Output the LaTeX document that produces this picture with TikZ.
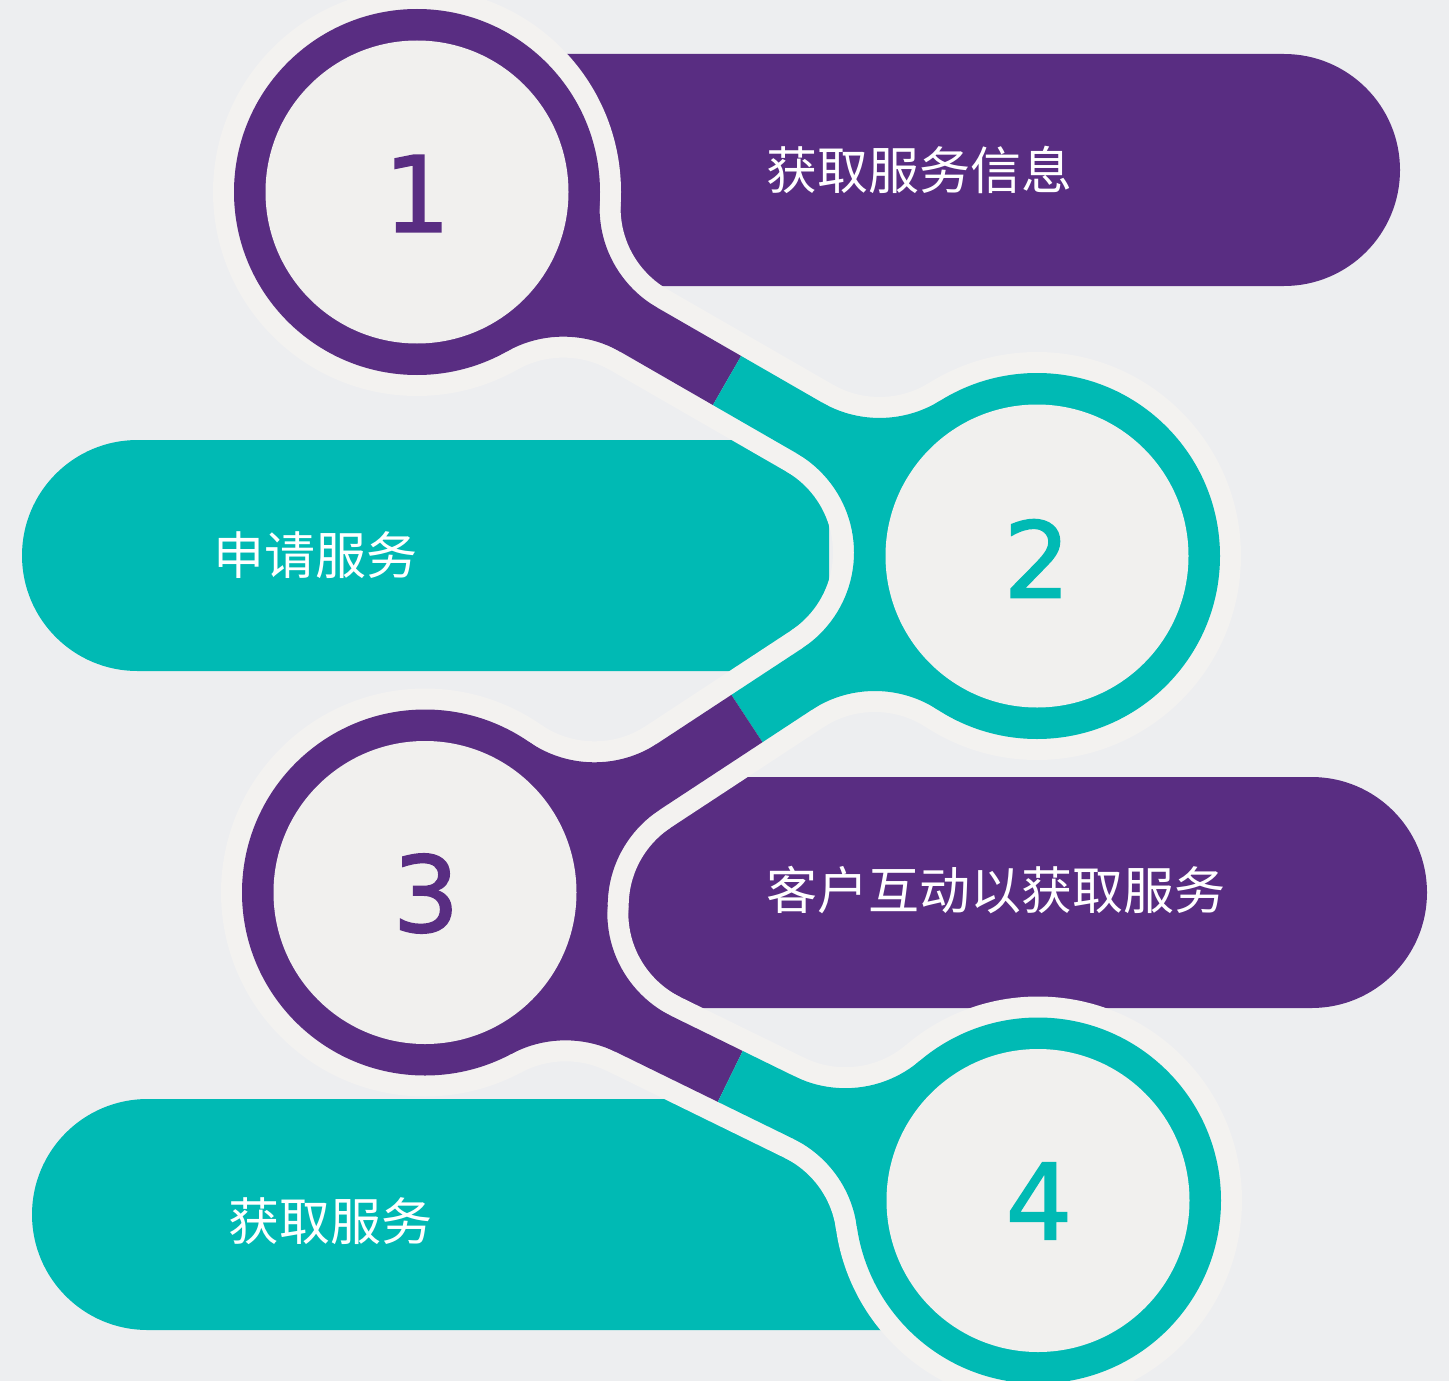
\documentclass[tikz,border=0pt]{standalone}
\usepackage{fontspec}
\newfontfamily\cjk{Noto Sans CJK SC}
\newfontfamily\numfont{DejaVu Sans}[FakeBold=1.6]
\usetikzlibrary{calc,intersections}
\definecolor{pur}{HTML}{592D82}
\definecolor{tea}{HTML}{00BAB4}
\definecolor{bgc}{HTML}{EDEEF0}
\definecolor{halo}{HTML}{F3F2F0}
\definecolor{innc}{HTML}{F1F0EE}
% fillet between a circle (centre #1) and a band (near end #2, far end #3)
% side angles #4 / #5, colour #6 ; uses \filRc, \filfr, \filw
\newcommand{\myfil}[6]{%
  \pgfmathsetmacro\filbig{\filRc+\filfr}%
  \pgfmathsetmacro\filoff{\filw+\filfr}%
  \pgfmathsetmacro\filrat{\filRc/(\filRc+\filfr)}%
  \path[name path=fcirc] (#1) circle[radius=\filbig pt];
  \path[name path=fline] ($(#2)!\filoff pt!#4:(#3)$) -- ($(#3)!\filoff pt!#5:(#2)$);
  \path[name intersections={of=fcirc and fline, by=FF}];
  \coordinate (TT1) at ($(#1)!\filrat!(FF)$);
  \coordinate (EE1) at ($(#2)!\filw pt!#4:(#3)$);
  \coordinate (EE2) at ($(#3)!\filw pt!#5:(#2)$);
  \coordinate (TT2) at ($(EE1)!(FF)!(EE2)$);
  \begin{scope}
    \clip (#2) -- (TT1) -- (FF) -- (TT2) -- cycle;
    \fill[#6, even odd rule] ($(FF)+(-420,-420)$) rectangle ($(FF)+(420,420)$)
      (FF) circle[radius=\filfr pt];
  \end{scope}
}
\newcommand{\bothfil}[4]{% circle, near, far, colour
  \myfil{#1}{#2}{#3}{90}{-90}{#4}
  \myfil{#1}{#2}{#3}{-90}{90}{#4}
}
\tikzset{
  bartext/.style={anchor=west, inner sep=0pt, text=white, font=\cjk\fontsize{51}{60}\selectfont},
  numtext/.style={inner sep=0pt, font=\numfont\fontsize{105}{120}\selectfont}
}
\begin{document}
\begin{tikzpicture}[x=1pt, y=-1pt]
\useasboundingbox (0,0) rectangle (1449,1381);
\clip (0,0) rectangle (1449,1381);
\fill[bgc] (0,0) rectangle (1449,1381);

% centres and stem axes
\coordinate (C1) at (417,192);
\coordinate (C2) at (1037,556);
\coordinate (C3) at (425,892.5);
\coordinate (C4) at (1038,1200.5);
\coordinate (P12) at (417,202);   \coordinate (Q12) at (1037,559);
\coordinate (P23) at (1037,528);  \coordinate (Q23) at (425,930);
\coordinate (P34) at (425,927);   \coordinate (Q34) at (1038,1227);
\coordinate (M12) at ($(P12)!0.5!(Q12)$);
\coordinate (M23) at ($(P23)!0.474!(Q23)$);
\coordinate (M34) at ($(P34)!0.498!(Q34)$);

% bars
\fill[pur, rounded corners=116pt] (300,54) rectangle (1400,286);
\begin{scope}
  \clip (0,0) rectangle (829,1381);
  \fill[tea, rounded corners=115.5pt] (22,440) rectangle (1100,671);
\end{scope}
\fill[pur, rounded corners=115.5pt] (500,777) rectangle (1427,1008);
\begin{scope}
  \clip (0,0) rectangle (900,1381);
  \fill[tea, rounded corners=115.5pt] (32,1099) rectangle (1100,1330);
\end{scope}

% halo layer
\def\filRc{204}\def\filfr{94}\def\filw{49.3}
\foreach \c in {C1,C2,C3,C4} { \fill[halo] (\c) circle[radius=204pt]; }
\draw[halo, line width=98.6pt] (P12) -- (Q12);
\draw[halo, line width=98.6pt] (P23) -- (Q23);
\draw[halo, line width=98.6pt] (P34) -- (Q34);
\bothfil{C1}{P12}{Q12}{halo}
\bothfil{C2}{Q12}{P12}{halo}
\bothfil{C2}{P23}{Q23}{halo}
\bothfil{C3}{Q23}{P23}{halo}
\bothfil{C3}{P34}{Q34}{halo}
\bothfil{C4}{Q34}{P34}{halo}

% coloured chain
\def\filRc{183}\def\filfr{115}\def\filw{28.3}
\fill[pur] (C1) circle[radius=183pt];
\fill[tea] (C2) circle[radius=183pt];
\fill[pur] (C3) circle[radius=183pt];
\fill[tea] (C4) circle[radius=183pt];
\draw[pur, line width=56.6pt] (P12) -- (M12);
\draw[tea, line width=56.6pt] (M12) -- (Q12);
\draw[tea, line width=56.6pt] (P23) -- (M23);
\draw[pur, line width=56.6pt] (M23) -- (Q23);
\draw[pur, line width=56.6pt] (P34) -- (M34);
\draw[tea, line width=56.6pt] (M34) -- (Q34);
\bothfil{C1}{P12}{Q12}{pur}
\bothfil{C2}{Q12}{P12}{tea}
\bothfil{C2}{P23}{Q23}{tea}
\bothfil{C3}{Q23}{P23}{pur}
\bothfil{C3}{P34}{Q34}{pur}
\bothfil{C4}{Q34}{P34}{tea}

% inner discs and numbers
\foreach \c in {C1,C2,C3,C4} { \fill[innc] (\c) circle[radius=151.5pt]; }
\node[numtext, text=pur] (n1) at (417,193.5) {1};
\node[numtext, text=tea] (n2) at (1037,558.5) {2};
\node[numtext, text=pur] (n3) at (426,893.5) {3};
\node[numtext, text=tea] (n4) at (1039,1201) {4};

% bar texts
\node[bartext] (t1) at (766,170) {获取服务信息};
\node[bartext] (t2) at (213,555) {申请服务};
\node[bartext] (t3) at (766,890) {客户互动以获取服务};
\node[bartext] (t4) at (228,1221) {获取服务};
\end{tikzpicture}
\end{document}
